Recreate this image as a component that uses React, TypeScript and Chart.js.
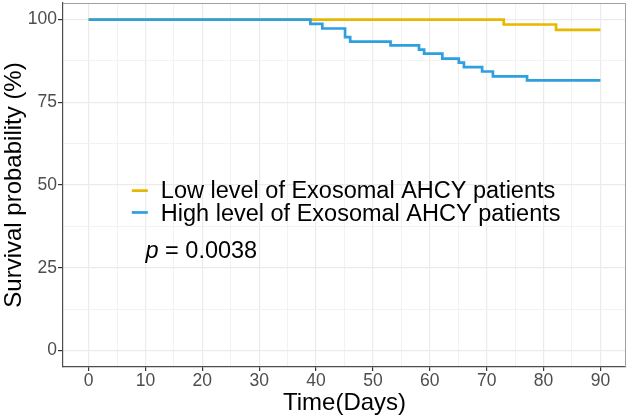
import React, { useEffect, useRef } from "react";
import { Chart, registerables } from "chart.js";

Chart.register(...registerables);

// Kaplan-Meier curves (time in days, survival in %)
const lowTimes = [0, 73, 82.2, 90];
const lowSurv = [100, 98.5, 96.9, 96.9];

const highTimes = [0, 39, 41.1, 45.1, 46, 53.1, 58.1, 59, 62.2, 65.1, 66, 69.2, 71.1, 77.1, 90];
const highSurv = [100, 98.7, 97.3, 94.7, 93.3, 92.2, 90.9, 89.7, 88.2, 87.0, 85.6, 84.3, 82.8, 81.6, 81.6];

const seriesLabels = ["Low level of Exosomal AHCY patients", "High level of Exosomal AHCY patients"];
const seriesColors = ["#E7B800", "#2E9FDF"];
const pValueText = "0.0038";

const xTicks = [0, 10, 20, 30, 40, 50, 60, 70, 80, 90];
const yTicks = [0, 25, 50, 75, 100];

const FONT = "'Liberation Sans', Arial, Helvetica, sans-serif";

const overlayPlugin = {
  id: "kmOverlay",
  beforeDatasetsDraw(chart: any) {
    const { ctx, chartArea } = chart;
    ctx.save();
    ctx.strokeStyle = "#a0a0a0";
    ctx.lineWidth = 1;
    ctx.beginPath();
    ctx.moveTo(chartArea.left, chartArea.top + 0.5);
    ctx.lineTo(chartArea.right - 0.5, chartArea.top + 0.5);
    ctx.lineTo(chartArea.right - 0.5, chartArea.bottom);
    ctx.stroke();
    ctx.restore();
  },
  afterDatasetsDraw(chart: any) {
    const { ctx } = chart;
    const xs = chart.scales.x;
    const ys = chart.scales.y;
    ctx.save();
    const keyX0 = xs.getPixelForValue(7.6);
    const keyX1 = keyX0 + 16;
    const textX = keyX0 + 29;
    const keyRows = [48.3, 41.7];
    const textRows = [48.0, 41.0];
    ctx.font = `23.5px ${FONT}`;
    ctx.textBaseline = "middle";
    ctx.textAlign = "left";
    keyRows.forEach((yv, i) => {
      const py = ys.getPixelForValue(yv);
      ctx.strokeStyle = seriesColors[i];
      ctx.lineWidth = 2.7;
      ctx.beginPath();
      ctx.moveTo(keyX0, py);
      ctx.lineTo(keyX1, py);
      ctx.stroke();
      ctx.fillStyle = "#000000";
      ctx.fillText(seriesLabels[i], textX, ys.getPixelForValue(textRows[i]));
    });
    const py = ys.getPixelForValue(29.9);
    const px = xs.getPixelForValue(10.0);
    ctx.font = `italic 23.5px ${FONT}`;
    ctx.fillText("p", px, py);
    const w = ctx.measureText("p").width;
    ctx.font = `23.5px ${FONT}`;
    ctx.fillText(" = " + pValueText, px + w, py);
    ctx.restore();
  },
};

export default function App() {
  const canvasRef = useRef<HTMLCanvasElement | null>(null);

  useEffect(() => {
    document.body.style.margin = "0";
    const canvas = canvasRef.current;
    if (!canvas) return;
    const lowData = lowTimes.map((t, i) => ({ x: t, y: lowSurv[i] }));
    const highData = highTimes.map((t, i) => ({ x: t, y: highSurv[i] }));
    const isMajorX = (c: any) => c.tick && xTicks.includes(c.tick.value);
    const isMajorY = (c: any) => c.tick && yTicks.includes(c.tick.value);
    const chart = new Chart(canvas, {
      type: "line",
      data: {
        datasets: [
          {
            label: seriesLabels[1],
            data: highData,
            borderColor: seriesColors[1],
            borderWidth: 2.7,
            pointRadius: 0,
            stepped: true,
            fill: false,
          },
          {
            label: seriesLabels[0],
            data: lowData,
            borderColor: seriesColors[0],
            borderWidth: 2.7,
            pointRadius: 0,
            stepped: true,
            fill: false,
          },
        ],
      },
      options: {
        animation: false,
        responsive: false,
        maintainAspectRatio: false,
        layout: { padding: { top: 3, right: 4, left: 0, bottom: 0 } },
        plugins: {
          legend: { display: false },
          tooltip: { enabled: false },
        },
        scales: {
          x: {
            type: "linear",
            min: -4.5,
            max: 94.5,
            afterBuildTicks: (scale: any) => {
              const t: any[] = [];
              for (let v = 0; v <= 90; v += 5) t.push({ value: v });
              scale.ticks = t;
            },
            afterFit: (scale: any) => {
              scale.height = 51;
              scale.paddingLeft = 0;
              scale.paddingRight = 0;
            },
            ticks: {
              includeBounds: false,
              autoSkip: false,
              maxRotation: 0,
              color: "#4D4D4D",
              font: { family: FONT, size: 17.5, lineHeight: 1.1 },
              padding: 1,
              callback: (v: any) => (xTicks.includes(Number(v)) ? String(v) : ""),
            },
            grid: {
              color: (c: any) => (isMajorX(c) ? "#EBEBEB" : "#F2F2F2"),
              lineWidth: (c: any) => (isMajorX(c) ? 1.2 : 1),
              tickColor: (c: any) => (isMajorX(c) ? "#333333" : "rgba(0,0,0,0)"),
              tickLength: 4,
              drawTicks: true,
            },
            border: { display: true, color: "#4D4D4D", width: 1.2 },
            title: {
              display: true,
              text: "Time(Days)",
              color: "#000000",
              font: { family: FONT, size: 24 },
              padding: { top: 0, bottom: 0 },
            },
          },
          y: {
            type: "linear",
            min: -5,
            max: 105,
            afterBuildTicks: (scale: any) => {
              const t: any[] = [];
              for (let v = 0; v <= 100; v += 12.5) t.push({ value: v });
              scale.ticks = t;
            },
            afterFit: (scale: any) => {
              scale.width = 63;
              scale.paddingTop = 0;
              scale.paddingBottom = 0;
            },
            ticks: {
              includeBounds: false,
              autoSkip: false,
              color: "#4D4D4D",
              font: { family: FONT, size: 17.5, lineHeight: 1.1 },
              padding: 1,
              callback: (v: any) => (yTicks.includes(Number(v)) ? String(v) : ""),
            },
            grid: {
              color: (c: any) => (isMajorY(c) ? "#EBEBEB" : "#F2F2F2"),
              lineWidth: (c: any) => (isMajorY(c) ? 1.2 : 1),
              tickColor: (c: any) => (isMajorY(c) ? "#333333" : "rgba(0,0,0,0)"),
              tickLength: 5,
              drawTicks: true,
            },
            border: { display: true, color: "#4D4D4D", width: 1.2 },
            title: {
              display: true,
              text: "Survival probability (%)",
              color: "#000000",
              font: { family: FONT, size: 24 },
              padding: { top: 0, bottom: 0 },
            },
          },
        },
      },
      plugins: [overlayPlugin],
    } as any);
    return () => chart.destroy();
  }, []);

  return (
    <div style={{ position: "fixed", left: 0, top: 0, width: 630, height: 418, background: "#fff" }}>
      <canvas ref={canvasRef} width={630} height={418} style={{ width: 630, height: 418 }} />
    </div>
  );
}
